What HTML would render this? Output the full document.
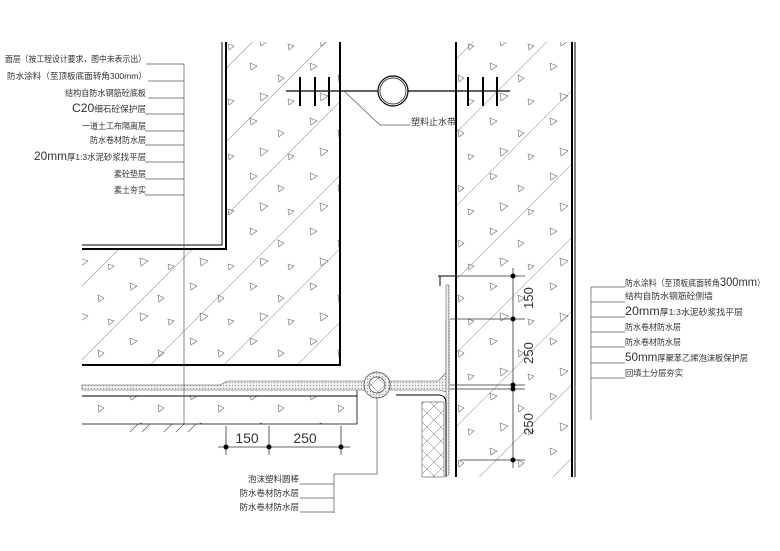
<!DOCTYPE html>
<html><head><meta charset="utf-8"><style>
html,body{margin:0;padding:0;background:#fff;}
svg{display:block;}
text{font-family:"Liberation Sans","Noto Sans CJK SC",sans-serif;fill:#333;}
</style></head><body>
<svg width="780" height="551" viewBox="0 0 780 551" xmlns="http://www.w3.org/2000/svg">
<defs>
<pattern id="diag" patternUnits="userSpaceOnUse" width="52" height="52" patternTransform="rotate(45)">
<line x1="0" y1="0" x2="0" y2="52" stroke="#555" stroke-width="0.7"/>
</pattern>
<pattern id="tri" patternUnits="userSpaceOnUse" width="60" height="55">
<path d="M10 8 l7 3 l-6 4 z M38 20 l6 3 l-5 4 z M20 38 l8 3 l-7 5 z M48 44 l6 2 l-5 4 z" fill="none" stroke="#666" stroke-width="0.6"/>
</pattern>
<pattern id="xx" patternUnits="userSpaceOnUse" width="14" height="14">
<path d="M0 0 L14 14 M14 0 L0 14" stroke="#666" stroke-width="0.5"/>
</pattern>
<pattern id="dots" patternUnits="userSpaceOnUse" width="3" height="3">
<rect width="3" height="3" fill="#eee"/><circle cx="1.5" cy="1.5" r="0.6" fill="#999"/>
</pattern>
</defs>

<path d="M226 42 L340 42 L340 365 L82 365 L82 249 L226 249 Z" fill="url(#diag)"/>
<path d="M226 42 L340 42 L340 365 L82 365 L82 249 L226 249 Z" fill="url(#tri)"/>
<rect x="456" y="42" width="116" height="435" fill="url(#diag)"/>
<rect x="456" y="42" width="116" height="435" fill="url(#tri)"/>
<rect x="82" y="396" width="275" height="28" fill="url(#tri)"/>

<g stroke="#000" fill="none">
<path d="M222 42 V245 H82" stroke-width="1"/>
<path d="M226 42 V249 H82" stroke-width="2"/>
<path d="M340 42 V365 H82" stroke-width="2"/>
<line x1="456" y1="42" x2="456" y2="477" stroke-width="2"/>
<line x1="572" y1="42" x2="572" y2="477" stroke-width="2"/>
<line x1="575" y1="42" x2="575" y2="477" stroke-width="1"/>
<line x1="82" y1="396" x2="357" y2="396" stroke-width="1"/>
<line x1="82" y1="424" x2="357" y2="424" stroke-width="0.8"/>
<line x1="357" y1="390" x2="357" y2="424" stroke-width="0.8"/>
</g>

<path d="M82 385 L220 385 L228 381 L370 381 L370 390 L82 390 Z" fill="url(#dots)" stroke="#555" stroke-width="0.6"/>
<path d="M390 381 L438 381 L446 373 L446 320 L449 320 L449 393 L440 390 L390 390 Z" fill="url(#dots)" stroke="#555" stroke-width="0.6"/>
<rect x="446" y="285" width="3" height="190" fill="url(#dots)" stroke="#555" stroke-width="0.5"/>
<path d="M438 276 H456 M440 276 V286" stroke="#333" stroke-width="1.2" fill="none"/>
<path d="M396 395 H438 Q446 395 446 403 V477" stroke="#000" stroke-width="1" fill="none"/>
<rect x="422" y="402" width="22" height="75" fill="url(#xx)" stroke="#555" stroke-width="0.6"/>
<circle cx="377" cy="385" r="13" fill="url(#dots)" stroke="#444" stroke-width="0.7"/>
<circle cx="377" cy="385" r="8" fill="#fff" stroke="#444" stroke-width="0.7"/>
<circle cx="377" cy="385" r="8" fill="url(#xx)"/>
<path d="M130 432 l8 -8 m4 8 l8 -8 m14 8 l8 -8 m4 8 l8 -8 m4 8 l8 -8" stroke="#555" stroke-width="0.7" fill="none"/>

<g stroke="#000" fill="none">
<line x1="286" y1="91" x2="378" y2="91" stroke-width="1.2"/>
<line x1="408" y1="91" x2="510" y2="91" stroke-width="1.2"/>
<circle cx="393" cy="91" r="15" stroke-width="1.2"/>
<circle cx="393" cy="91" r="13" stroke-width="0.7"/>
<path d="M300 77 V106 M315 77 V106 M329 77 V106 M468 77 V106 M483 77 V106 M497 77 V106" stroke-width="2"/>
</g>
<path d="M345 92 L380 125 H410" stroke="#555" stroke-width="0.7" fill="none"/>
<text x="411" y="125" font-size="9">塑料止水带</text>

<g stroke="#333" stroke-width="0.8" fill="none">
<line x1="513" y1="268" x2="513" y2="468"/>
<line x1="440" y1="276" x2="525" y2="276"/>
<line x1="450" y1="319" x2="525" y2="319"/>
<line x1="450" y1="385" x2="525" y2="385"/>
<line x1="450" y1="389" x2="525" y2="389"/>
<line x1="460" y1="460" x2="525" y2="460"/>
</g>
<g fill="#000"><circle cx="513" cy="276" r="2.5"/><circle cx="513" cy="319" r="2.5"/><circle cx="513" cy="385" r="2.5"/><circle cx="513" cy="389" r="2.5"/><circle cx="513" cy="460" r="2.5"/></g>
<g font-size="13" fill="#555">
<text transform="translate(533 298) rotate(-90)" text-anchor="middle">150</text>
<text transform="translate(533 353) rotate(-90)" text-anchor="middle">250</text>
<text transform="translate(533 424) rotate(-90)" text-anchor="middle">250</text>
</g>
<g stroke="#333" stroke-width="0.8"><line x1="218" y1="447" x2="350" y2="447"/><line x1="226" y1="426" x2="226" y2="455"/><line x1="269" y1="426" x2="269" y2="455"/><line x1="341" y1="426" x2="341" y2="455"/></g>
<g fill="#000"><circle cx="226" cy="447" r="2.5"/><circle cx="269" cy="447" r="2.5"/><circle cx="341" cy="447" r="2.5"/></g>
<text x="247" y="443" font-size="14" fill="#555" text-anchor="middle">150</text>
<text x="305" y="443" font-size="14" fill="#555" text-anchor="middle">250</text>

<g stroke="#555" stroke-width="0.7" fill="none">
<line x1="184" y1="64" x2="184" y2="425"/>
<path d="M146 64H184 M148 81H184 M148 98H184 M145 114H184 M145 131H184 M145 145H184 M145 162H184 M145 179H184 M145 195H184"/>
</g>
<g font-size="8.5">
<text x="5" y="62" textLength="141" lengthAdjust="spacingAndGlyphs">面层（按工程设计要求，图中未表示出）</text>
<text x="7" y="79" textLength="140" lengthAdjust="spacingAndGlyphs">防水涂料（至顶板底面转角300mm）</text>
<text x="65" y="96" textLength="81" lengthAdjust="spacingAndGlyphs">结构自防水钢筋砼底板</text>
<text x="72" y="112" textLength="74" lengthAdjust="spacingAndGlyphs"><tspan font-size="12">C20</tspan>细石砼保护层</text>
<text x="82" y="129" textLength="64" lengthAdjust="spacingAndGlyphs">一道土工布隔离层</text>
<text x="90" y="143" textLength="56" lengthAdjust="spacingAndGlyphs">防水卷材防水层</text>
<text x="34" y="160" textLength="112" lengthAdjust="spacingAndGlyphs"><tspan font-size="12">20mm</tspan>厚1:3水泥砂浆找平层</text>
<text x="114" y="177" textLength="32" lengthAdjust="spacingAndGlyphs">素砼垫层</text>
<text x="114" y="193" textLength="32" lengthAdjust="spacingAndGlyphs">素土夯实</text>
</g>

<g stroke="#555" stroke-width="0.7" fill="none">
<line x1="591" y1="287" x2="591" y2="420"/>
<path d="M591 287H625 M591 302H625 M591 317H625 M591 332H625 M591 347H625 M591 363H625 M591 378H625"/>
</g>
<g font-size="8.5">
<text x="625" y="286" textLength="140" lengthAdjust="spacingAndGlyphs">防水涂料（至顶板底面转角<tspan font-size="12">300mm</tspan>）</text>
<text x="625" y="299" textLength="88" lengthAdjust="spacingAndGlyphs">结构自防水钢筋砼侧墙</text>
<text x="625" y="315" textLength="118" lengthAdjust="spacingAndGlyphs"><tspan font-size="12">20mm</tspan>厚1:3水泥砂浆找平层</text>
<text x="625" y="330" textLength="56" lengthAdjust="spacingAndGlyphs">防水卷材防水层</text>
<text x="625" y="345" textLength="56" lengthAdjust="spacingAndGlyphs">防水卷材防水层</text>
<text x="625" y="361" textLength="123" lengthAdjust="spacingAndGlyphs"><tspan font-size="12">50mm</tspan>厚聚苯乙烯泡沫板保护层</text>
<text x="625" y="376" textLength="58" lengthAdjust="spacingAndGlyphs">回填土分层夯实</text>
</g>

<g stroke="#555" stroke-width="0.7" fill="none">
<path d="M377 398 V474 H334 V513 M300 484 H334 M300 498 H334 M300 512 H334"/>
</g>
<g font-size="8.5" text-anchor="end">
<text x="299" y="482">泡沫塑料圆棒</text>
<text x="299" y="496">防水卷材防水层</text>
<text x="299" y="510">防水卷材防水层</text>
</g>
</svg>
</body></html>
